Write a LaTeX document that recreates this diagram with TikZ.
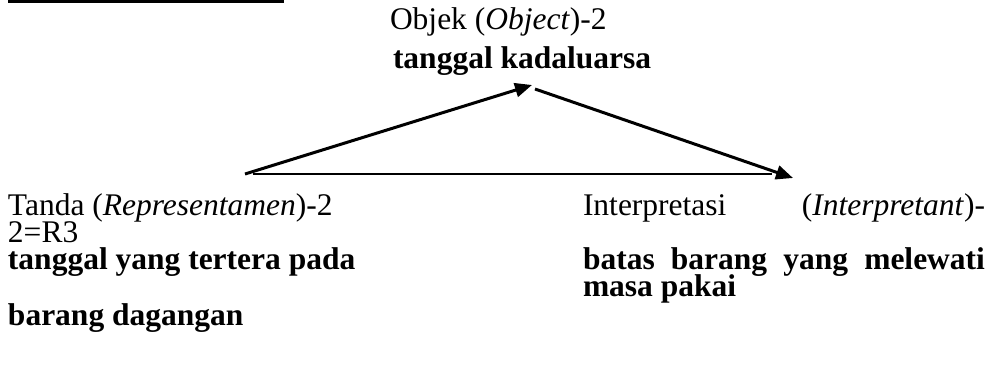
\documentclass[tikz,border=0pt]{standalone}
\usepackage{fontspec}
\setmainfont{Liberation Serif}
\usetikzlibrary{arrows.meta}
\tikzset{
  lbl/.style={anchor=base west, inner sep=0pt, outer sep=0pt,
    font=\fontsize{31.5}{27}\selectfont},
  lblb/.style={lbl, font=\fontsize{31.5}{27}\selectfont\bfseries},
  conn/.style={line width=3pt, -{Triangle[length=17pt,width=14pt]}},
  baseline rule/.style={line width=2pt},
}
% a block of lines set on a fixed 27pt grid; its baseline is the first line's
\newcommand\gridblock[1]{\vtop{\baselineskip=27pt\lineskiplimit=-100pt\lineskip=0pt #1}}
\begin{document}
\begin{tikzpicture}[x=1pt,y=-1pt]
  \useasboundingbox (0,0) rectangle (991,369);
  % rule at the top left
  \fill (8,0) rectangle (284,3);
  % Object
  \node[lbl]  (obj1) at (390,30) {Objek (\textit{Object})-2};
  \node[lblb] (obj2) at (393,69) {tanggal kadaluarsa};
  % Representamen
  \node[lbl] (rep) at (8,215) {\gridblock{%
    \hbox{Tanda (\textit{Representamen})-2}
    \hbox{2=R3}
    \hbox{\bfseries tanggal yang tertera pada}
    \vskip 29pt
    \hbox{\bfseries barang dagangan}}};
  % Interpretant
  \node[lbl] (int) at (583,215) {\gridblock{%
    \hbox to 402pt{Interpretasi\hfill(\textit{Interpretant})-}
    \vskip 27pt
    \hbox to 402pt{\bfseries batas\hfill barang\hfill yang\hfill melewati}
    \hbox{\bfseries masa pakai}}};
  % triangle corners
  \coordinate (cR) at (245,174);
  \coordinate (cO) at (532,85);
  \coordinate (cOs) at (535,89);
  \coordinate (cI) at (793,178);
  \coordinate (hA) at (253,174);
  \coordinate (hB) at (772,174);
  \draw[conn] (cR) -- (cO);
  \draw[conn] (cOs) -- (cI);
  \draw[baseline rule] (hA) -- (hB);
\end{tikzpicture}
\end{document}
